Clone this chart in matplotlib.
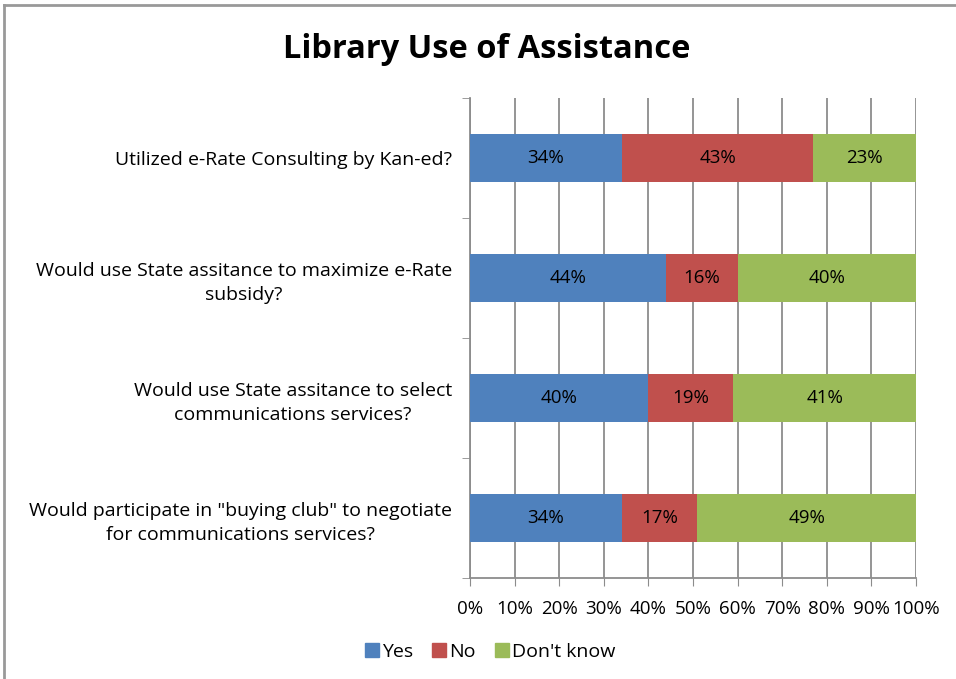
import matplotlib
matplotlib.use("Agg")
import matplotlib.pyplot as plt
from matplotlib.lines import Line2D
import numpy as np

plt.rcParams['font.family'] = ['Open Sans', 'DejaVu Sans']

categories = [
    "Utilized e-Rate Consulting by Kan-ed?",
    "Would use State assitance to maximize e-Rate\nsubsidy?",
    "Would use State assitance to select\ncommunications services?",
    "Would participate in \"buying club\" to negotiate\nfor communications services?",
]
yes = [34, 44, 40, 34]
no = [43, 16, 19, 17]
dont_know = [23, 40, 41, 49]
series_names = ["Yes", "No", "Don't know"]
colors = ["#4F81BD", "#C0504D", "#9BBB59"]
xticks = [0, 10, 20, 30, 40, 50, 60, 70, 80, 90, 100]

W, H = 956, 679
fig = plt.figure(figsize=(W / 100, H / 100), dpi=100)
ax = fig.add_axes([470 / W, 1 - 578 / H, (916 - 470) / W, (578 - 98) / H])

y = np.arange(len(categories))
left = np.zeros(len(categories))
for name, vals, c in zip(series_names, [yes, no, dont_know], colors):
    vals = np.array(vals, dtype=float)
    ax.barh(y, vals, left=left, height=0.4, color=c, label=name, zorder=3)
    for yi, l, v in zip(y, left, vals):
        ax.text(l + v / 2, yi, f"{int(v)}%", ha='center', va='center',
                fontsize=13.5, color='black', zorder=4)
    left += vals

ax.set_xlim(0, 100)
ax.set_ylim(len(categories) - 0.5, -0.5)
ax.set_xticks(xticks)
ax.set_xticklabels([f"{t}%" for t in xticks], fontsize=13.5)
ax.tick_params(axis='x', length=6, color='#8c8c8c', pad=10)
ax.set_yticks(np.arange(len(categories) + 1) - 0.5, minor=True)
ax.set_yticks(y)
ax.set_yticklabels(categories, fontsize=14, ha='right')
ax.tick_params(axis='y', which='major', length=0, pad=13)
ax.tick_params(axis='y', which='minor', length=6, color='#8c8c8c')
for lab in ax.get_yticklabels():
    lab.set_multialignment('center')
    lab.set_linespacing(1.45)
ax.xaxis.grid(True, color='#8c8c8c', linewidth=1.3, zorder=0)
for s in ['top', 'right']:
    ax.spines[s].set_visible(False)
for s in ['left', 'bottom']:
    ax.spines[s].set_color('#8c8c8c')
    ax.spines[s].set_linewidth(1.3)

fig.text(487 / W, 1 - 49 / H, "Library Use of Assistance", ha='center', va='center',
         fontsize=23.5, fontweight='bold')

handles = [plt.Rectangle((0, 0), 1, 1, color=c) for c in colors]
fig.legend(handles, series_names, loc='center', bbox_to_anchor=(490 / W, 1 - 652 / H),
           ncol=3, frameon=False, fontsize=14, handlelength=0.72, handleheight=0.72,
           handletextpad=0.15, columnspacing=1.0)

# outer frame
fig.add_artist(Line2D([4 / W, 4 / W], [0, 1 - 5 / H], color='#999999', lw=2, transform=fig.transFigure))
fig.add_artist(Line2D([4 / W, 1], [1 - 5 / H, 1 - 5 / H], color='#999999', lw=2, transform=fig.transFigure))

fig.savefig("out.png", dpi=100)
